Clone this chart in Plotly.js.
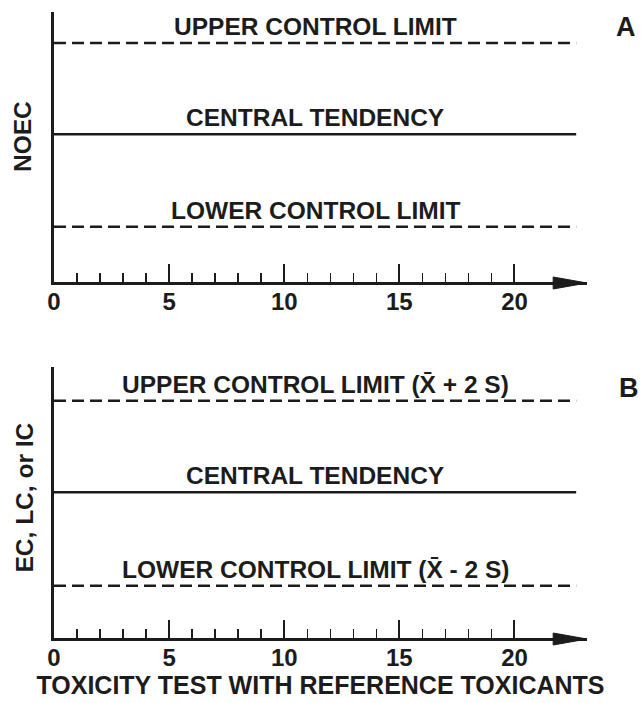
<!DOCTYPE html>
<html><head><meta charset="utf-8">
<script src="https://cdn.plot.ly/plotly-3.0.1.min.js"></script>
<style>html,body{margin:0;padding:0;background:#fff;}#chart{width:641px;height:703px;}</style>
</head><body><div id="chart"></div>
<script>
// ---- data ----
const lineStartEnd = [0, 22.68];
const levelsA = [8.85, 5.46, 2.03];
const levelsB = [8.75, 5.37, 1.91];
const labelsA = ['UPPER CONTROL LIMIT', 'CENTRAL TENDENCY', 'LOWER CONTROL LIMIT'];
const labelsB = ['UPPER CONTROL LIMIT (X\u0304 + 2 S)', 'CENTRAL TENDENCY', 'LOWER CONTROL LIMIT (X\u0304 - 2 S)'];
const majorTicks = [0, 5, 10, 15, 20];
const minorTicks = [1, 2, 3, 4, 6, 7, 8, 9, 11, 12, 13, 14, 16, 17, 18, 19];
const panelLetters = ['A', 'B'];
const yTitles = ['NOEC', 'EC, LC, or IC'];
const xTitle = 'TOXICITY TEST WITH REFERENCE TOXICANTS';
const xRange = [0, 23.15];
const yRange = [0, 10];

// ---- styles / layout ----
const W = 641, H = 703, L = 54, R = 54;
const plotW = W - L - R;
const INK = '#1c1c1c';
const FONT = 'Liberation Sans, Arial, Helvetica, sans-serif';
const dashStyles = ['12px,6px', 'solid', '12px,6px'];
const lineWidths = [2.5, 2.5, 2.5];
const domA = [1 - 281.5 / H, 1 - 12 / H];
const domB = [1 - 637.5 / H, 1 - 367 / H];

const traces = [];
[[levelsA, 'x', 'y'], [levelsB, 'x2', 'y2']].forEach(([lv, xa, ya]) => {
  lv.forEach((v, i) => {
    traces.push({
      type: 'scatter', mode: 'lines', xaxis: xa, yaxis: ya,
      x: lineStartEnd, y: [v, v],
      line: {color: INK, width: lineWidths[i], dash: dashStyles[i]},
      hoverinfo: 'skip', showlegend: false
    });
  });
});

function xAxis(anchor, withTitle) {
  const ax = {
    anchor: anchor, domain: [0, 1], range: xRange,
    showgrid: false, zeroline: false,
    showline: true, linewidth: 3, linecolor: INK,
    tickmode: 'array', tickvals: majorTicks, ticktext: majorTicks.map(String),
    ticks: 'inside', ticklen: 18, tickwidth: 2, tickcolor: INK,
    tickfont: {family: FONT, size: 24, color: INK, weight: 'bold'},
    ticklabelstandoff: -3,
    minor: {tickmode: 'array', tickvals: minorTicks, ticks: 'inside', ticklen: 9, tickwidth: 1.5, tickcolor: INK, showgrid: false},
    automargin: false, fixedrange: true
  };
  if (withTitle) ax.title = {text: xTitle, font: {family: FONT, size: 25, color: INK, weight: 'bold'}, standoff: 6};
  return ax;
}
function yAxis(anchor, dom) {
  return {
    anchor: anchor, domain: dom, range: yRange,
    showgrid: false, zeroline: false, showticklabels: false, ticks: '',
    showline: true, linewidth: 3, linecolor: INK,
    automargin: false, fixedrange: true
  };
}

const annotations = [];
[[levelsA, labelsA, 'x', 'y'], [levelsB, labelsB, 'x2', 'y2']].forEach(([lv, lb, xa, ya]) => {
  lv.forEach((v, i) => {
    annotations.push({
      xref: xa, yref: ya, x: (lineStartEnd[0] + lineStartEnd[1]) / 2, y: v,
      text: lb[i], showarrow: false, xanchor: 'center', yanchor: 'bottom', yshift: 1,
      font: {family: FONT, size: 24.5, color: INK, weight: 'bold'}
    });
  });
});
// panel letters
[[panelLetters[0], 626, 27.5], [panelLetters[1], 629, 388]].forEach(([t, px, py]) => {
  annotations.push({
    xref: 'paper', yref: 'paper', x: (px - L) / plotW, y: 1 - py / H,
    text: t, showarrow: false, xanchor: 'center', yanchor: 'middle',
    font: {family: FONT, size: 27, color: INK, weight: 'bold'}
  });
});
// rotated y-axis titles
[[yTitles[0], 23, 137], [yTitles[1], 24.5, 498]].forEach(([t, px, py]) => {
  annotations.push({
    xref: 'paper', yref: 'paper', x: (px - L) / plotW, y: 1 - py / H,
    text: t, showarrow: false, xanchor: 'center', yanchor: 'middle', textangle: -90,
    font: {family: FONT, size: 24.5, color: INK, weight: 'bold'}
  });
});

// arrowheads at the end of each x axis
const arrowLen = 1.47, arrowHalf = 6 / H;
const shapes = [domA, domB].map(d => {
  const y0 = d[0] - 1.5 / H;
  const xb = xRange[1] - arrowLen, xt = xRange[1];
  return {
    type: 'path', xref: 'x', yref: 'paper', layer: 'above',
    path: `M${xb},${y0 + arrowHalf} L${xt},${y0} L${xb},${y0 - arrowHalf} Z`,
    fillcolor: INK, line: {color: INK, width: 1}
  };
});

const layout = {
  width: W, height: H,
  margin: {l: L, r: R, t: 0, b: 0, pad: 0},
  paper_bgcolor: '#fff', plot_bgcolor: '#fff',
  showlegend: false,
  xaxis: xAxis('y', false),
  xaxis2: xAxis('y2', true),
  yaxis: yAxis('x', domA),
  yaxis2: yAxis('x2', domB),
  annotations: annotations,
  shapes: shapes
};

Plotly.newPlot('chart', traces, layout, {displayModeBar: false, staticPlot: true});
</script></body></html>
